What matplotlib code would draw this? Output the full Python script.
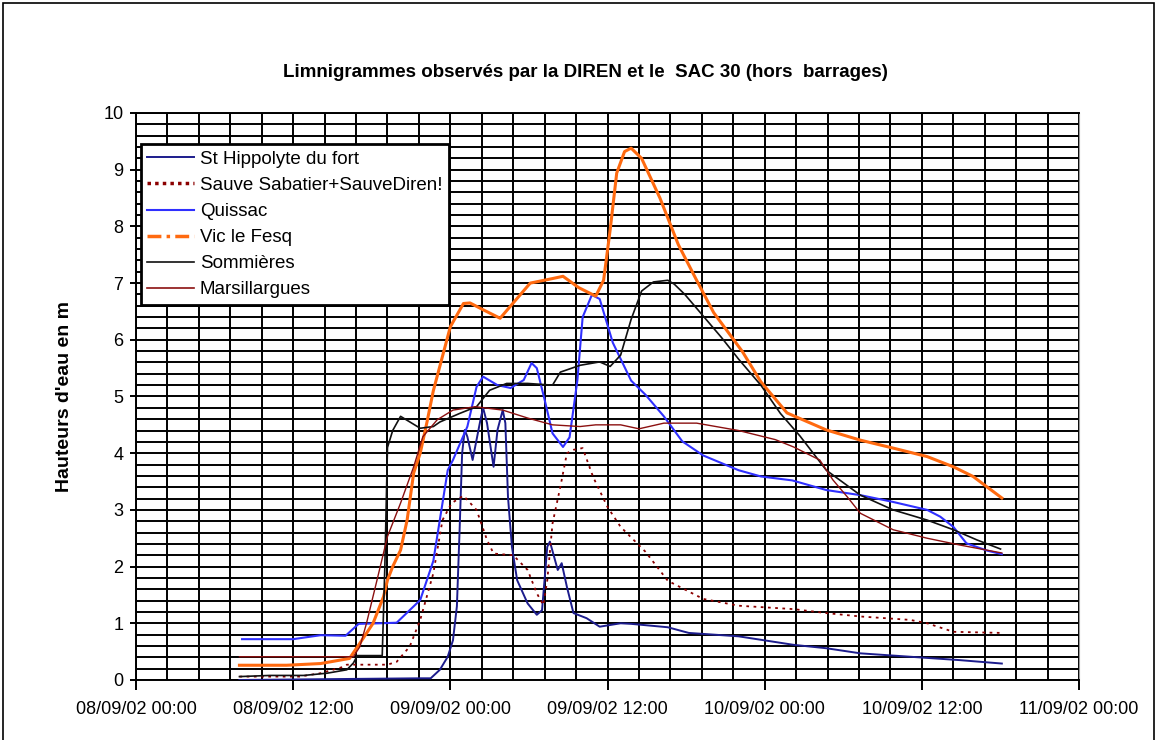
import numpy as np
import matplotlib
matplotlib.use("Agg")
import matplotlib.pyplot as plt
import matplotlib.dates as mdates
from matplotlib.ticker import MultipleLocator
from matplotlib.lines import Line2D
from matplotlib.patches import Rectangle
from datetime import datetime

plt.rcParams['font.family'] = ['Liberation Sans', 'DejaVu Sans']

# hours after 08/09/02 00:00, water level (m)
hipp_h = [7.9, 21.7, 22.5, 23.2, 23.8, 24.2, 24.5, 24.7, 24.9, 25.1, 25.3, 25.7, 26.3, 26.5, 26.8,
          27.3, 27.6, 28.0, 28.2, 28.4, 28.7, 29.1, 29.9, 30.6, 31.0, 31.4, 31.6, 32.2, 32.5, 32.9,
          33.4, 34.4, 35.4, 37.0, 37.8, 40.6, 42.2, 46.0, 50.2, 52.7, 55.3, 59.1, 62.9, 66.1]
hipp_v = [0.0, 0.03, 0.03, 0.18, 0.41, 0.7, 1.3, 2.6, 4.0, 4.41, 4.29, 3.88, 4.59, 4.8, 4.53,
          3.76, 4.41, 4.76, 4.53, 3.23, 2.35, 1.76, 1.35, 1.15, 1.23, 2.35, 2.44, 1.94, 2.06, 1.64,
          1.18, 1.09, 0.94, 1.0, 0.99, 0.93, 0.83, 0.77, 0.62, 0.56, 0.47, 0.41, 0.35, 0.29]

sauve_h = [7.9, 12.5, 14.1, 15.8, 16.1, 19.2, 19.9, 20.9, 21.7, 22.7, 23.4, 24.1, 25.0, 26.0, 26.8,
           27.3, 28.8, 29.9, 30.6, 31.1, 31.4, 31.8, 32.4, 32.9, 33.4, 34.1, 34.9, 36.0, 37.0, 38.9,
           40.6, 43.3, 46.0, 50.2, 52.7, 55.3, 59.1, 60.4, 62.4, 66.1]
sauve_v = [0.06, 0.06, 0.12, 0.23, 0.27, 0.27, 0.32, 0.59, 1.06, 1.88, 2.82, 3.12, 3.25, 3.0, 2.47,
           2.23, 2.2, 1.94, 1.53, 1.32, 1.76, 2.76, 3.41, 4.0, 4.06, 4.09, 3.58, 3.05, 2.7, 2.26,
           1.75, 1.43, 1.31, 1.25, 1.18, 1.12, 1.06, 1.0, 0.85, 0.83]

quis_h = [8.1, 12.0, 14.1, 16.0, 17.0, 18.6, 19.9, 21.7, 22.7, 23.8, 24.2, 25.3, 26.0, 26.5, 27.6,
          28.6, 29.6, 30.2, 30.6, 31.2, 31.8, 32.6, 33.1, 33.7, 34.1, 34.8, 35.4, 36.4, 37.8, 38.9,
          40.3, 41.7, 43.3, 46.0, 47.7, 50.1, 52.7, 55.3, 57.8, 60.4, 61.4, 62.4, 63.4, 65.0, 66.1]
quis_v = [0.72, 0.72, 0.79, 0.78, 0.99, 1.0, 1.01, 1.41, 2.1, 3.7, 3.88, 4.47, 5.17, 5.35, 5.2,
          5.15, 5.29, 5.59, 5.5, 4.94, 4.35, 4.11, 4.28, 5.29, 6.4, 6.79, 6.72, 5.95, 5.28, 5.03,
          4.65, 4.21, 3.96, 3.7, 3.59, 3.52, 3.35, 3.26, 3.14, 3.0, 2.88, 2.7, 2.41, 2.28, 2.22]

vic_h = [7.9, 11.5, 14.1, 16.3, 17.1, 18.1, 18.9, 19.2, 19.6, 20.2, 20.7, 21.2, 21.7, 22.2, 22.7,
         24.0, 25.0, 25.5, 26.5, 27.8, 28.8, 30.1, 31.8, 32.6, 33.8, 35.1, 35.7, 36.2, 36.7, 37.3,
         37.8, 38.6, 40.0, 41.4, 42.8, 44.1, 46.3, 47.7, 49.7, 52.7, 55.3, 57.8, 60.4, 62.4, 63.9, 66.1]
vic_v = [0.26, 0.26, 0.29, 0.38, 0.65, 1.0, 1.47, 1.76, 2.0, 2.29, 2.82, 3.65, 4.0, 4.53, 5.1,
         6.23, 6.64, 6.65, 6.53, 6.38, 6.65, 7.0, 7.08, 7.12, 6.92, 6.77, 7.05, 7.94, 8.94, 9.32,
         9.38, 9.2, 8.5, 7.68, 7.05, 6.48, 5.79, 5.26, 4.71, 4.41, 4.23, 4.09, 3.94, 3.76, 3.59, 3.21]

somm_h = [7.9, 10.2, 12.8, 14.6, 16.1, 16.6, 16.9, 18.8, 19.0, 19.2, 19.6, 20.2, 20.7, 21.7, 22.7,
          23.2, 24.7, 26.0, 27.0, 28.3, 29.9, 31.8, 32.4, 33.9, 35.4, 36.2, 37.0, 37.8, 38.6, 39.5,
          40.6, 41.1, 41.9, 43.3, 44.7, 46.0, 47.7, 49.2, 50.7, 52.7, 55.3, 57.8, 60.4, 62.4, 64.2, 66.0]
somm_v = [0.06, 0.08, 0.08, 0.12, 0.18, 0.3, 0.43, 0.43, 2.0, 4.1, 4.4, 4.65, 4.58, 4.44, 4.47,
          4.55, 4.7, 4.82, 5.11, 5.23, 5.23, 5.2, 5.43, 5.55, 5.61, 5.53, 5.73, 6.36, 6.86, 7.02,
          7.05, 6.98, 6.8, 6.42, 6.04, 5.66, 5.2, 4.7, 4.3, 3.7, 3.26, 3.0, 2.82, 2.65, 2.47, 2.31]

mars_h = [7.9, 16.6, 17.1, 17.6, 18.4, 19.2, 20.2, 21.2, 21.9, 23.0, 24.2, 25.9, 28.0, 29.9, 31.8,
          33.9, 35.1, 37.0, 38.4, 40.3, 42.8, 46.0, 48.8, 50.2, 52.2, 53.2, 54.3, 55.3, 57.8, 60.4,
          62.9, 66.1]
mars_v = [0.41, 0.41, 0.59, 1.0, 1.76, 2.53, 3.12, 3.76, 4.29, 4.59, 4.76, 4.82, 4.76, 4.62, 4.5,
          4.47, 4.5, 4.5, 4.43, 4.53, 4.53, 4.4, 4.24, 4.11, 3.88, 3.53, 3.23, 2.94, 2.65, 2.5,
          2.38, 2.24]

names = ["St Hippolyte du fort", "Sauve Sabatier+SauveDiren!", "Quissac",
         "Vic le Fesq", "Sommières", "Marsillargues"]

t0 = mdates.date2num(datetime(2002, 9, 8))


def tx(h):
    return t0 + np.array(h) / 24.0


fig = plt.figure(figsize=(11.57, 7.4), dpi=100)
ax = fig.add_axes([0.1175, 0.0811, 0.8152, 0.7662])

ax.plot(tx(hipp_h), hipp_v, color="#1c1c8c", lw=1.4, zorder=3)
ax.plot(tx(sauve_h), sauve_v, color="#8b0000", lw=1.3, ls=(0, (1.5, 2.5)), zorder=3)
ax.plot(tx(quis_h), quis_v, color="#3030ff", lw=1.5, zorder=3)
ax.plot(tx(vic_h), vic_v, color="#ff6a10", lw=2.2, zorder=3)
ax.plot(tx(somm_h), somm_v, color="#111111", lw=1.2, zorder=3)
ax.plot(tx(mars_h), mars_v, color="#8b1010", lw=1.0, zorder=3)

ax.set_xlim(t0, t0 + 3)
ax.set_ylim(0, 10)
ax.xaxis.set_major_locator(MultipleLocator(0.5))
ax.xaxis.set_minor_locator(MultipleLocator(0.1))
ax.xaxis.set_major_formatter(mdates.DateFormatter("%d/%m/%y %H:%M"))
ax.yaxis.set_major_locator(MultipleLocator(1))
ax.yaxis.set_minor_locator(MultipleLocator(0.2))
ax.grid(which="both", color="black", lw=1.4, zorder=1)
ax.set_axisbelow(True)

ax.tick_params(axis="x", which="major", direction="out", length=7, width=1.4, labelsize=13, pad=8)
ax.tick_params(axis="y", which="major", direction="out", length=4, width=1.4, labelsize=13, pad=5)
ax.tick_params(which="minor", length=0)
for s in ["left", "bottom", "top"]:
    ax.spines[s].set_color("black")
    ax.spines[s].set_linewidth(1.4)
ax.spines["right"].set_color("#999999")

ax.set_ylabel("Hauteurs d'eau en m", fontsize=14, fontweight="bold", labelpad=22)
fig.text(0.5056, 0.9027, "Limnigrammes observés par la DIREN et le  SAC 30 (hors  barrages)",
         ha="center", va="center", fontsize=13.5, fontweight="bold")

# legend, with the line styles shown by the source
handles = [
    Line2D([], [], color="#1c1c8c", lw=1.4),
    Line2D([], [], color="#8b0000", lw=2.5, ls=(0, (1, 1.2))),
    Line2D([], [], color="#3030ff", lw=1.5),
    Line2D([], [], color="#ff6a10", lw=2.5, ls=(0, (4, 1.5, 1, 1.5))),
    Line2D([], [], color="#111111", lw=1.2),
    Line2D([], [], color="#8b1010", lw=1.2),
]
leg = ax.legend(handles, names, loc="upper left", bbox_to_anchor=(0.005, 0.945),
                fontsize=13.5, frameon=True, fancybox=False, framealpha=1,
                edgecolor="black", handlelength=2.5, handletextpad=0.3,
                labelspacing=0.48, borderpad=0.35, borderaxespad=0)
leg.get_frame().set_linewidth(2)
leg.set_zorder(5)

fig.patches.append(Rectangle((3 / 1157, -0.01), 1151 / 1157, 0.01 + 737 / 740,
                             transform=fig.transFigure, fill=False,
                             edgecolor="black", lw=1.2))

fig.savefig("out.png", dpi=100)
